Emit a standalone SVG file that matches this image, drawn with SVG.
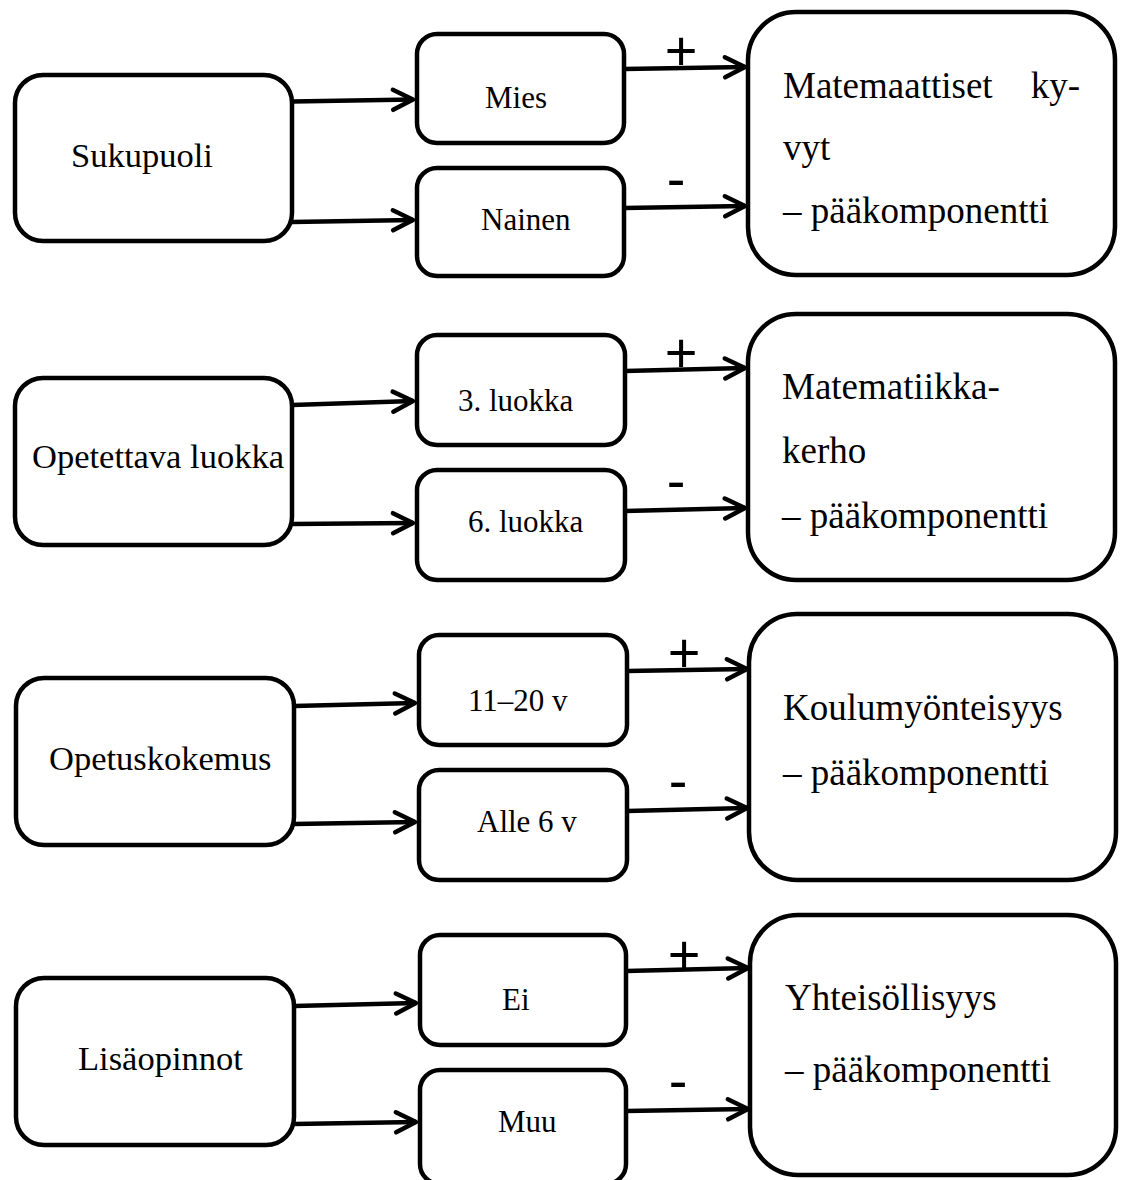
<svg xmlns="http://www.w3.org/2000/svg" width="1121" height="1180" viewBox="0 0 1121 1180">
<style>
.box{fill:#fff;stroke:#000;stroke-width:4.5}
.t{font-family:"Liberation Serif","Times New Roman",serif;fill:#000}
.lt{font-size:34.5px}
.mt{font-size:31px}
.rt{font-size:37px}
.sg{font-family:"Liberation Sans",Arial,sans-serif;font-size:56px;fill:#000;text-anchor:middle}
.c{fill:none;stroke:#000;stroke-width:4.5;marker-end:url(#ah)}
</style>
<defs>
<marker id="ah" markerUnits="userSpaceOnUse" markerWidth="34" markerHeight="34" refX="26" refY="17" orient="auto" viewBox="0 0 34 34" overflow="visible">
<path d="M6,7 L26,17 L6,27" fill="none" stroke="#000" stroke-width="4.5" stroke-linecap="round" stroke-linejoin="round"/>
</marker>
</defs>
<rect width="1121" height="1180" fill="#fff"/>

<g id="connectors">
<path class="c" d="M292,101.5 L413,99.5"/>
<path class="c" d="M292,222 L413,220"/>
<path class="c" d="M624,69 L745,67"/>
<path class="c" d="M624,208 L745,206"/>
<path class="c" d="M292,405 L413,401"/>
<path class="c" d="M292,524 L413,523"/>
<path class="c" d="M625,371 L745,368"/>
<path class="c" d="M625,511 L745,508"/>
<path class="c" d="M294,706 L415,703"/>
<path class="c" d="M294,824 L415,822"/>
<path class="c" d="M627,671 L747,669"/>
<path class="c" d="M627,811 L747,808"/>
<path class="c" d="M294,1006 L416,1003"/>
<path class="c" d="M294,1124 L416,1122"/>
<path class="c" d="M626,971 L748,968"/>
<path class="c" d="M626,1111 L748,1109"/>
<text class="sg" x="681" y="70">+</text>
<text class="sg" x="676" y="197.5">-</text>
<text class="sg" x="681" y="372">+</text>
<text class="sg" x="676" y="499.5">-</text>
<text class="sg" x="684" y="672">+</text>
<text class="sg" x="678" y="799.5">-</text>
<text class="sg" x="684" y="974">+</text>
<text class="sg" x="678" y="1099.5">-</text>
</g>

<g id="sukupuoli">
<rect class="box" x="15" y="75" width="277" height="166" rx="28"/>
<text class="t lt" x="71" y="167">Sukupuoli</text>
</g>
<g id="mies">
<rect class="box" x="417" y="34" width="207" height="109" rx="20"/>
<text class="t mt" x="485" y="108">Mies</text>
</g>
<g id="nainen">
<rect class="box" x="417" y="168" width="207" height="108" rx="20"/>
<text class="t mt" x="481" y="230">Nainen</text>
</g>
<g id="matemaattiset">
<rect class="box" x="748" y="12" width="367" height="263" rx="48"/>
<text class="t rt" x="783" y="98">Matemaattiset</text>
<text class="t rt" x="1080" y="98" text-anchor="end">ky-</text>
<text class="t rt" x="783" y="160">vyt</text>
<text class="t rt" x="783" y="223">– pääkomponentti</text>
</g>

<g id="opetettava">
<rect class="box" x="15" y="378" width="277" height="167" rx="28"/>
<text class="t lt" x="32" y="468">Opetettava luokka</text>
</g>
<g id="luokka3">
<rect class="box" x="417" y="335" width="208" height="110" rx="20"/>
<text class="t mt" x="458" y="411">3. luokka</text>
</g>
<g id="luokka6">
<rect class="box" x="417" y="470" width="208" height="110" rx="20"/>
<text class="t mt" x="468" y="532">6. luokka</text>
</g>
<g id="kerho">
<rect class="box" x="748" y="314" width="367" height="266" rx="48"/>
<text class="t rt" x="782" y="399">Matematiikka-</text>
<text class="t rt" x="782" y="463">kerho</text>
<text class="t rt" x="782" y="528">– pääkomponentti</text>
</g>

<g id="opetuskokemus">
<rect class="box" x="16" y="678" width="278" height="167" rx="28"/>
<text class="t lt" x="49" y="770">Opetuskokemus</text>
</g>
<g id="v1120">
<rect class="box" x="419" y="635" width="208" height="110" rx="20"/>
<text class="t mt" x="468" y="711">11–20 v</text>
</g>
<g id="alle6">
<rect class="box" x="419" y="770" width="208" height="110" rx="20"/>
<text class="t mt" x="477" y="832">Alle 6 v</text>
</g>
<g id="koulumyonteisyys">
<rect class="box" x="749" y="614" width="367" height="266" rx="48"/>
<text class="t rt" x="783" y="720">Koulumyönteisyys</text>
<text class="t rt" x="783" y="785">– pääkomponentti</text>
</g>

<g id="lisaopinnot">
<rect class="box" x="16" y="978" width="278" height="167" rx="28"/>
<text class="t lt" x="78" y="1070">Lisäopinnot</text>
</g>
<g id="ei">
<rect class="box" x="420" y="935" width="206" height="110" rx="20"/>
<text class="t mt" x="502" y="1010">Ei</text>
</g>
<g id="muu">
<rect class="box" x="420" y="1070" width="206" height="114" rx="20"/>
<text class="t mt" x="498" y="1132">Muu</text>
</g>
<g id="yhteisollisyys">
<rect class="box" x="750" y="915" width="366" height="260" rx="48"/>
<text class="t rt" x="785" y="1010">Yhteisöllisyys</text>
<text class="t rt" x="785" y="1082">– pääkomponentti</text>
</g>
</svg>
